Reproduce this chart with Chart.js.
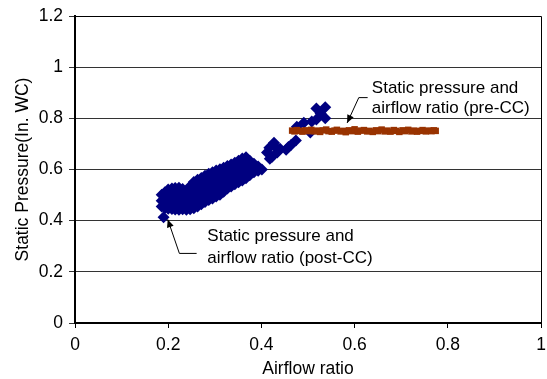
<!DOCTYPE html>
<html>
<head>
<meta charset="utf-8">
<script src="https://cdn.jsdelivr.net/npm/chart.js@4.4.1/dist/chart.umd.min.js"></script>
<style>
html,body{margin:0;padding:0;background:#fff;}
#wrap{width:547px;height:379px;position:relative;}
</style>
</head>
<body>
<div id="wrap"><canvas id="c"></canvas></div>
<script>
// Post-CC series (navy diamonds)
const postX = [
0.186,0.186,0.186,
0.193,0.193,0.193,0.193,
0.200,0.200,0.200,0.200,0.200,
0.208,0.208,0.208,0.208,0.208,
0.215,0.215,0.215,0.215,0.215,
0.223,0.223,0.223,0.223,0.223,
0.231,0.231,0.231,0.231,0.231,
0.239,0.239,0.239,0.239,0.239,
0.247,0.247,0.247,0.247,0.247,
0.255,0.255,0.255,0.255,0.255,0.255,
0.263,0.263,0.263,0.263,0.263,0.263,
0.271,0.271,0.271,0.271,0.271,0.271,
0.279,0.279,0.279,0.279,0.279,0.279,
0.287,0.287,0.287,0.287,0.287,0.287,
0.295,0.295,0.295,0.295,0.295,0.295,
0.303,0.303,0.303,0.303,0.303,0.303,
0.311,0.311,0.311,0.311,0.311,0.311,
0.319,0.319,0.319,0.319,0.319,0.319,
0.327,0.327,0.327,0.327,0.327,0.327,
0.335,0.335,0.335,0.335,0.335,0.335,
0.343,0.343,0.343,0.343,0.343,0.343,
0.351,0.351,0.351,0.351,0.351,0.351,
0.359,0.359,0.359,0.359,0.359,0.359,
0.367,0.367,0.367,0.367,0.367,0.367,
0.375,0.375,0.375,0.375,
0.384,0.384,0.384,
0.393,0.393,
0.401,
0.190,
0.412,0.417,0.423,0.427,0.434,0.418,0.430,0.440,0.453,0.458,0.464,0.474,
0.476,0.491,0.505,
0.518,0.537,0.527,0.518,0.537,0.508
];
const postY = [
0.455,0.478,0.501,
0.450,0.471,0.492,0.511,
0.447,0.468,0.490,0.511,0.522,
0.446,0.465,0.486,0.508,0.526,
0.444,0.467,0.489,0.512,0.528,
0.443,0.463,0.485,0.507,0.529,
0.445,0.466,0.489,0.510,0.524,
0.443,0.465,0.486,0.503,0.516,
0.445,0.467,0.490,0.513,0.535,
0.449,0.470,0.492,0.516,0.538,0.551,
0.455,0.477,0.499,0.522,0.545,0.560,
0.464,0.485,0.507,0.530,0.553,0.567,
0.473,0.493,0.515,0.537,0.558,0.576,
0.481,0.500,0.521,0.543,0.565,0.583,
0.487,0.507,0.528,0.550,0.572,0.589,
0.494,0.514,0.535,0.557,0.578,0.596,
0.501,0.521,0.542,0.563,0.585,0.601,
0.513,0.531,0.550,0.570,0.590,0.607,
0.526,0.543,0.561,0.579,0.597,0.614,
0.534,0.551,0.569,0.587,0.604,0.620,
0.542,0.559,0.577,0.594,0.611,0.626,
0.550,0.567,0.584,0.601,0.618,0.634,
0.557,0.575,0.592,0.609,0.627,0.643,
0.566,0.584,0.601,0.619,0.637,0.648,
0.578,0.597,0.616,0.634,
0.589,0.606,0.622,
0.595,0.612,
0.600,
0.413,
0.666,0.685,0.650,0.705,0.666,0.642,0.688,0.681,0.677,0.688,0.697,0.713,
0.767,0.783,0.745,
0.838,0.843,0.819,0.795,0.800,0.788
];
// Pre-CC series (brown squares)
const preX = [
0.466,0.471,0.476,0.483,0.488,0.495,0.501,0.507,0.514,0.519,0.526,0.532,0.539,0.544,
0.551,0.557,0.562,0.570,0.576,0.581,0.588,0.595,0.600,0.607,0.613,0.620,0.627,0.632,
0.639,0.646,0.651,0.658,0.665,0.670,0.677,0.684,0.689,0.696,0.703,0.708,0.715,0.722,
0.727,0.734,0.741,0.746,0.753,0.760,0.765,0.770,0.774
];
const preY = [
0.752,0.749,0.754,0.751,0.748,0.753,0.750,0.755,0.749,0.752,0.747,0.753,0.756,0.750,
0.748,0.752,0.755,0.749,0.751,0.746,0.753,0.750,0.757,0.748,0.752,0.754,0.749,0.751,
0.747,0.753,0.750,0.756,0.749,0.752,0.748,0.754,0.751,0.747,0.753,0.750,0.755,0.749,
0.752,0.748,0.751,0.754,0.749,0.752,0.750,0.753,0.751
];
const xTicks = [0, 0.2, 0.4, 0.6, 0.8, 1];
const yTicks = [0, 0.2, 0.4, 0.6, 0.8, 1, 1.2];
const xTitle = 'Airflow ratio';
const yTitle = 'Static Pressure(In. WC)';
const notePre = ['Static pressure and', 'airflow ratio (pre-CC)'];
const notePost = ['Static pressure and', 'airflow ratio (post-CC)'];

const FONT = '"Liberation Sans", Arial, sans-serif';
Chart.defaults.font.family = FONT;
Chart.defaults.color = '#000';

const toPts = (xs, ys) => xs.map((v, i) => ({x: v, y: ys[i]}));

// annotation anchors in data units
const annotations = [
  {lines: notePre, tx: 0.637, ty: [0.918, 0.839],
   path: [[0.628, 0.881], [0.609, 0.881], [0.584, 0.782]]},
  {lines: notePost, tx: 0.284, ty: [0.340, 0.254],
   path: [[0.261, 0.272], [0.224, 0.272], [0.199, 0.405]]}
];

const annotPlugin = {
  id: 'annot',
  afterDatasetsDraw(chart) {
    const {ctx, chartArea: a, scales: {x, y}} = chart;
    ctx.save();
    ctx.strokeStyle = '#000';
    ctx.lineWidth = 1;
    ctx.beginPath();
    ctx.moveTo(Math.round(a.left), Math.round(a.top) + 0.5);
    ctx.lineTo(Math.round(a.right) + 0.5, Math.round(a.top) + 0.5);
    ctx.lineTo(Math.round(a.right) + 0.5, Math.round(a.bottom));
    ctx.stroke();
    ctx.font = '17px ' + FONT;
    ctx.fillStyle = '#000';
    ctx.textBaseline = 'middle';
    ctx.textAlign = 'left';
    annotations.forEach(an => {
      an.lines.forEach((t, i) => ctx.fillText(t, x.getPixelForValue(an.tx), y.getPixelForValue(an.ty[i])));
      const p = an.path.map(q => [x.getPixelForValue(q[0]), y.getPixelForValue(q[1])]);
      ctx.beginPath();
      ctx.moveTo(p[0][0], p[0][1]);
      for (let i = 1; i < p.length; i++) ctx.lineTo(p[i][0], p[i][1]);
      ctx.lineWidth = 1;
      ctx.stroke();
      const t = p[p.length - 1], s = p[p.length - 2];
      const ang = Math.atan2(t[1] - s[1], t[0] - s[0]);
      const L = 8, W = 3.5;
      ctx.beginPath();
      ctx.moveTo(t[0], t[1]);
      ctx.lineTo(t[0] - L * Math.cos(ang) + W * Math.sin(ang), t[1] - L * Math.sin(ang) - W * Math.cos(ang));
      ctx.lineTo(t[0] - L * Math.cos(ang) - W * Math.sin(ang), t[1] - L * Math.sin(ang) + W * Math.cos(ang));
      ctx.closePath();
      ctx.fill();
    });
    ctx.restore();
  }
};

new Chart(document.getElementById('c'), {
  type: 'scatter',
  data: {
    datasets: [
      {label: 'pre-CC', data: toPts(preX, preY), pointStyle: 'rect', pointRadius: 4.6,
       backgroundColor: '#993300', borderColor: '#993300', borderWidth: 0, order: 0},
      {label: 'post-CC', data: toPts(postX, postY), pointStyle: 'rectRot', pointRadius: 6,
       backgroundColor: '#000080', borderColor: '#000080', borderWidth: 0, order: 1}
    ]
  },
  options: {
    responsive: true,
    maintainAspectRatio: false,
    animation: false,
    devicePixelRatio: 1,
    layout: {padding: {left: 0, right: 4, top: 16, bottom: 0}},
    plugins: {legend: {display: false}, tooltip: {enabled: false}},
    scales: {
      x: {
        type: 'linear', min: 0, max: 1,
        afterBuildTicks: s => { s.ticks = xTicks.map(v => ({value: v})); },
        ticks: {callback: v => String(v), font: {size: 17.5}, color: '#000', padding: 7, maxRotation: 0},
        grid: {drawOnChartArea: false, drawTicks: true, tickLength: 5, color: '#000'},
        border: {color: '#000', width: 2},
        title: {display: true, text: xTitle, font: {size: 17.5, lineHeight: 1.1}, color: '#000', padding: {top: 0, bottom: 0}},
        afterFit: s => { s.height = 56; s.paddingLeft = 0; s.paddingRight = 0; }
      },
      y: {
        type: 'linear', min: 0, max: 1.2,
        afterBuildTicks: s => { s.ticks = yTicks.map(v => ({value: v})); },
        ticks: {callback: v => String(v), font: {size: 17.5}, color: '#000', padding: 6},
        grid: {color: '#333', lineWidth: 1, tickLength: 6},
        border: {color: '#000', width: 2},
        title: {display: true, text: yTitle, font: {size: 17.5}, color: '#000', padding: {top: 13, bottom: 0}},
        afterFit: s => { s.width = 75; s.paddingTop = 0; s.paddingBottom = 0; }
      }
    }
  },
  plugins: [annotPlugin]
});
</script>
</body>
</html>
